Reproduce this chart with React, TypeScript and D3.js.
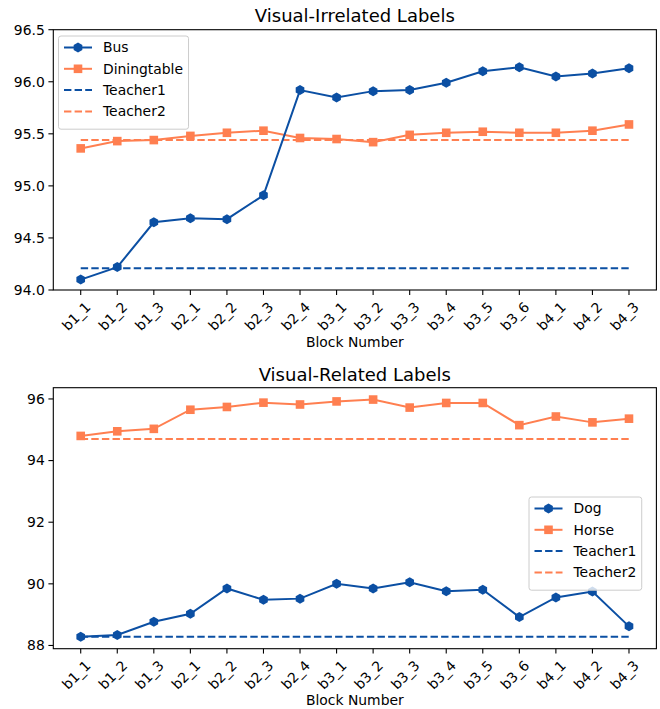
import React, { useEffect, useRef } from 'react';
import * as d3 from 'd3';

const blocks = ['b1_1', 'b1_2', 'b1_3', 'b2_1', 'b2_2', 'b2_3', 'b2_4', 'b3_1', 'b3_2', 'b3_3', 'b3_4', 'b3_5', 'b3_6', 'b4_1', 'b4_2', 'b4_3'];

// top panel
const busVals = [94.10, 94.22, 94.65, 94.69, 94.68, 94.91, 95.92, 95.85, 95.91, 95.92, 95.99, 96.10, 96.14, 96.05, 96.08, 96.13];
const diningVals = [95.36, 95.43, 95.44, 95.48, 95.51, 95.53, 95.46, 95.45, 95.42, 95.49, 95.51, 95.52, 95.51, 95.51, 95.53, 95.59];
const topTeacher1 = 94.21;
const topTeacher2 = 95.44;
const topTicks = [94.0, 94.5, 95.0, 95.5, 96.0, 96.5];

// bottom panel
const dogVals = [88.28, 88.34, 88.77, 89.03, 89.85, 89.48, 89.52, 90.0, 89.85, 90.05, 89.76, 89.81, 88.92, 89.56, 89.75, 88.62];
const horseVals = [94.8, 94.95, 95.03, 95.65, 95.74, 95.88, 95.82, 95.92, 95.98, 95.72, 95.87, 95.87, 95.15, 95.43, 95.24, 95.36];
const botTeacher1 = 88.28;
const botTeacher2 = 94.7;
const botTicks = [88, 90, 92, 94, 96];

const BLUE = '#0b4fa3';
const CORAL = '#ff7f50';
const FONT = 'DejaVu Sans, sans-serif';

const hexagon = (cx: number, cy: number, r: number) => {
  const pts: [number, number][] = [];
  for (let i = 0; i < 6; i++) {
    const a = Math.PI / 2 + (i * Math.PI) / 3;
    pts.push([cx + r * Math.cos(a), cy - r * Math.sin(a)]);
  }
  return 'M' + pts.map(p => p.join(',')).join('L') + 'Z';
};

const App: React.FC = () => {
  const svgRef = useRef<SVGSVGElement>(null);

  useEffect(() => {
    if (!svgRef.current) return;
    const svg = d3.select(svgRef.current);
    svg.selectAll('*').remove();

    const left = 53.3;
    const right = 656.4;

    const drawPanel = (opts: {
      top: number; bottom: number; title: string; titleY: number;
      domain: [number, number]; ticks: number[]; fmt: (v: number) => string;
      s1: number[]; s2: number[]; t1: number; t2: number;
      names: string[]; legendX: number; legendY: number; xlabelY: number;
    }) => {
      const g = svg.append('g');
      // matplotlib 5% margins -> padding of 0.75 step on each side
      const xScale = d3.scalePoint<string>()
        .domain(blocks)
        .range([left, right])
        .padding(0.75);
      const yScale = d3.scaleLinear().domain(opts.domain).range([opts.bottom, opts.top]);

      // title
      g.append('text')
        .attr('x', (left + right) / 2)
        .attr('y', opts.titleY)
        .attr('text-anchor', 'middle')
        .attr('font-family', FONT)
        .attr('font-size', '18px')
        .attr('fill', '#000')
        .text(opts.title);

      // teacher lines
      const x0 = xScale(blocks[0])!;
      const x1 = xScale(blocks[blocks.length - 1])!;
      [[opts.t1, BLUE], [opts.t2, CORAL]].forEach(([v, c]) => {
        g.append('line')
          .attr('x1', x0).attr('x2', x1)
          .attr('y1', yScale(v as number)).attr('y2', yScale(v as number))
          .attr('stroke', c as string)
          .attr('stroke-width', 2)
          .attr('stroke-dasharray', '7.4,3.2');
      });

      const line = d3.line<number>()
        .x((_, i) => xScale(blocks[i])!)
        .y(d => yScale(d));

      // series 2 (coral squares)
      g.append('path')
        .datum(opts.s2)
        .attr('d', line)
        .attr('fill', 'none')
        .attr('stroke', CORAL)
        .attr('stroke-width', 2);
      g.selectAll('rect.sq')
        .data(opts.s2)
        .join('rect')
        .attr('class', 'sq')
        .attr('x', (_, i) => xScale(blocks[i])! - 4.3)
        .attr('y', d => yScale(d) - 4.3)
        .attr('width', 8.6)
        .attr('height', 8.6)
        .attr('fill', CORAL);

      // series 1 (blue hexagons)
      g.append('path')
        .datum(opts.s1)
        .attr('d', line)
        .attr('fill', 'none')
        .attr('stroke', BLUE)
        .attr('stroke-width', 2);
      g.selectAll('path.hex')
        .data(opts.s1)
        .join('path')
        .attr('class', 'hex')
        .attr('d', (d, i) => hexagon(xScale(blocks[i])!, yScale(d), 5))
        .attr('fill', BLUE);

      // frame
      g.append('rect')
        .attr('x', left).attr('y', opts.top)
        .attr('width', right - left).attr('height', opts.bottom - opts.top)
        .attr('fill', 'none').attr('stroke', '#000').attr('stroke-width', 1.1);

      // y axis
      opts.ticks.forEach(t => {
        const y = yScale(t);
        g.append('line').attr('x1', left - 4.9).attr('x2', left).attr('y1', y).attr('y2', y)
          .attr('stroke', '#000').attr('stroke-width', 1.1);
        g.append('text')
          .attr('x', left - 8.5).attr('y', y)
          .attr('dy', '0.35em')
          .attr('text-anchor', 'end')
          .attr('font-family', FONT)
          .attr('font-size', '13.9px')
          .text(opts.fmt(t));
      });

      // x axis
      blocks.forEach(b => {
        const x = xScale(b)!;
        g.append('line').attr('x1', x).attr('x2', x).attr('y1', opts.bottom).attr('y2', opts.bottom + 4.9)
          .attr('stroke', '#000').attr('stroke-width', 1.1);
        g.append('text')
          .attr('transform', `translate(${x + 4},${opts.bottom + 11}) rotate(-45)`)
          .attr('text-anchor', 'end')
          .attr('dy', '0.7em')
          .attr('font-family', FONT)
          .attr('font-size', '13.9px')
          .text(b);
      });

      g.append('text')
        .attr('x', (left + right) / 2)
        .attr('y', opts.xlabelY)
        .attr('text-anchor', 'middle')
        .attr('font-family', FONT)
        .attr('font-size', '13.9px')
        .text('Block Number');

      // legend
      const lg = g.append('g').attr('transform', `translate(${opts.legendX},${opts.legendY})`);
      const rowH = 21.3;
      const box = lg.append('rect')
        .attr('x', 0).attr('y', 0)
        .attr('height', rowH * 4 + 8)
        .attr('rx', 2.5)
        .attr('fill', 'rgba(255,255,255,0.8)')
        .attr('stroke', '#ccc')
        .attr('stroke-width', 1);
      let maxW = 0;
      opts.names.forEach((n, i) => {
        const cy = 11.5 + i * rowH;
        const c = i % 2 === 0 ? BLUE : CORAL;
        const ln = lg.append('line')
          .attr('x1', 5.5).attr('x2', 33.5).attr('y1', cy).attr('y2', cy)
          .attr('stroke', c).attr('stroke-width', 2);
        if (i >= 2) ln.attr('stroke-dasharray', '7.4,3.2');
        if (i === 0) lg.append('path').attr('d', hexagon(19.5, cy, 5)).attr('fill', c);
        if (i === 1) lg.append('rect').attr('x', 15.2).attr('y', cy - 4.3).attr('width', 8.6).attr('height', 8.6).attr('fill', c);
        const t = lg.append('text')
          .attr('x', 44.5).attr('y', cy)
          .attr('dy', '0.35em')
          .attr('font-family', FONT)
          .attr('font-size', '13.9px')
          .text(n);
        const node = t.node() as SVGTextElement;
        maxW = Math.max(maxW, node.getComputedTextLength());
      });
      box.attr('width', 44.5 + maxW + 5.5);
    };

    drawPanel({
      top: 29.7, bottom: 290, title: 'Visual-Irrelated Labels', titleY: 22,
      domain: [94.0, 96.5], ticks: topTicks, fmt: d3.format('.1f'),
      s1: busVals, s2: diningVals, t1: topTeacher1, t2: topTeacher2,
      names: ['Bus', 'Diningtable', 'Teacher1', 'Teacher2'],
      legendX: 58.5, legendY: 36, xlabelY: 347,
    });

    const allBot = [...dogVals, ...horseVals, botTeacher1, botTeacher2];
    const lo = d3.min(allBot)!;
    const hi = d3.max(allBot)!;
    const pad = (hi - lo) * 0.05;
    drawPanel({
      top: 387.7, bottom: 648.7, title: 'Visual-Related Labels', titleY: 381,
      domain: [lo - pad, hi + pad], ticks: botTicks, fmt: d3.format('d'),
      s1: dogVals, s2: horseVals, t1: botTeacher1, t2: botTeacher2,
      names: ['Dog', 'Horse', 'Teacher1', 'Teacher2'],
      legendX: 529, legendY: 497, xlabelY: 705,
    });
  }, []);

  return (
    <svg
      ref={svgRef}
      width={660}
      height={709}
      style={{ position: 'absolute', left: 0, top: 0, background: '#fff' }}
    />
  );
};

export default App;
